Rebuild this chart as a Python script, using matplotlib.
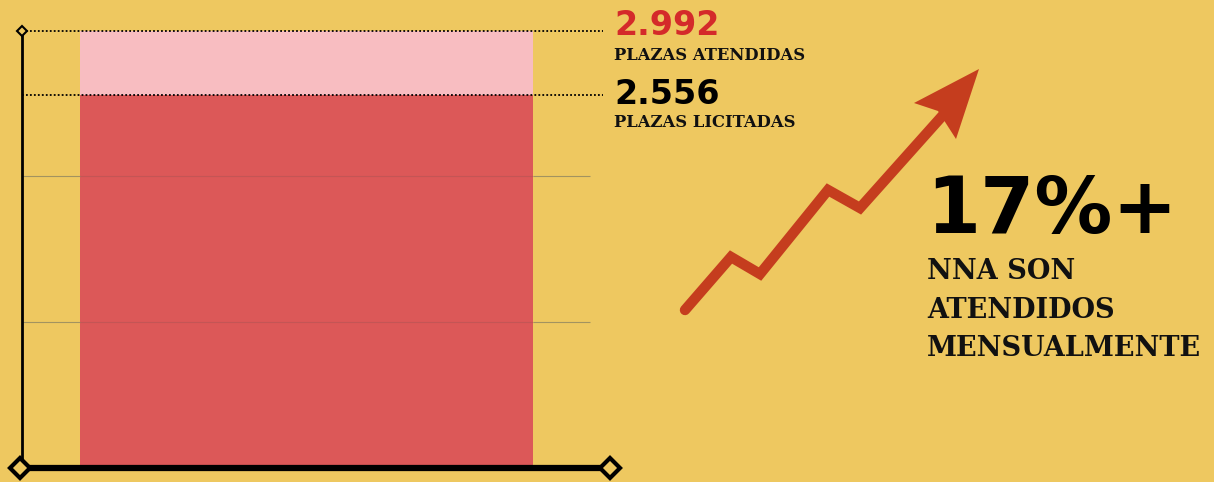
import matplotlib
matplotlib.use("Agg")
import matplotlib.pyplot as plt
from matplotlib.patches import Polygon

# ---- data ----
categories = ["Plazas"]
atendidas = [2992]
licitadas = [2556]
gridlines = [1000, 2000]
label_atendidas = "2.992"
label_licitadas = "2.556"
sub_atendidas = "PLAZAS ATENDIDAS"
sub_licitadas = "PLAZAS LICITADAS"
big_number = "17%+"
big_caption = ["NNA SON", "ATENDIDOS", "MENSUALMENTE"]

BG = "#EEC860"
RED = "#DC5858"
PINK = "#F8BDC1"
TXT_RED = "#D42A2A"
ARROW = "#C53D1E"

W, H = 1214, 482
fig = plt.figure(figsize=(W / 100, H / 100), dpi=100, facecolor=BG)

# main axes: x-pixels 22..610, y pixel 468 = 0, 146 px per 1000
ax_l, ax_r, ax_b = 22, 610, 468
ppu = 146 / 1000
ymax = 3100
top_px = ax_b - ymax * ppu
ax = fig.add_axes([ax_l / W, (H - ax_b) / H, (ax_r - ax_l) / W, (ax_b - top_px) / H])
ax.set_facecolor("none")
bar_l, bar_r = 80, 533
bw = bar_r - bar_l
ax.set_xlim((ax_l - bar_l) / bw, (ax_r - bar_l) / bw)
ax.set_ylim(0, ymax)
for s in ax.spines.values():
    s.set_visible(False)
ax.set_xticks([])
ax.set_yticks([])

def px(x):
    return (x - bar_l) / bw

ax.bar([0], atendidas, width=1, align="edge", color=PINK, zorder=2)
ax.bar([0], licitadas, width=1, align="edge", color=RED, zorder=3)

xl = px(ax_l)
for g in gridlines:
    ax.plot([xl, 0], [g, g], color="#8f8660", lw=0.8, alpha=0.8, zorder=4,
            solid_capstyle="butt")
    ax.plot([1, px(590)], [g, g], color="#8f8660", lw=0.8, alpha=0.8, zorder=4,
            solid_capstyle="butt")
    ax.plot([0, 1], [g, g], color="#8f5050", lw=0.8, alpha=0.3, zorder=4,
            solid_capstyle="butt")

# dotted reference lines
for v in (atendidas[0], licitadas[0]):
    ax.plot([xl, px(603)], [v, v], color="black", lw=1.3, ls=(0, (1, 1.2)), zorder=5)

# axis lines
ax.plot([xl, xl], [0, atendidas[0]], color="black", lw=2, zorder=6, clip_on=False)
ax.plot([px(18), px(ax_r)], [0, 0], color="black", lw=4.5,
        zorder=6, clip_on=False, solid_capstyle="butt")
ax.plot([px(20), px(ax_r)], [0, 0], ls="none", marker="D",
        ms=10, mfc=BG, mec="black", mew=3, zorder=7, clip_on=False)
ax.plot([xl], [atendidas[0]], ls="none", marker="D", ms=5, mfc=BG, mec="black",
        mew=1.5, zorder=7, clip_on=False)

# labels next to lines
tx = px(614)
ax.text(tx, atendidas[0] - 4 / ppu, label_atendidas, color=TXT_RED,
        fontsize=24, fontweight="bold", family="DejaVu Sans", ha="left",
        va="baseline", clip_on=False)
ax.text(tx, atendidas[0] - 29 / ppu, sub_atendidas, color="#111111",
        fontsize=11.8, fontweight="bold", family="DejaVu Serif", ha="left",
        va="baseline", clip_on=False)
ax.text(tx, licitadas[0] - 9 / ppu, label_licitadas, color="black",
        fontsize=24, fontweight="bold", family="DejaVu Sans", ha="left",
        va="baseline", clip_on=False)
ax.text(tx, licitadas[0] - 32 / ppu, sub_licitadas, color="#111111",
        fontsize=11.8, fontweight="bold", family="DejaVu Serif", ha="left",
        va="baseline", clip_on=False)

# decoration overlay (pixel coordinates)
ov = fig.add_axes([0, 0, 1, 1])
ov.set_xlim(0, W)
ov.set_ylim(H, 0)
ov.axis("off")
ov.set_facecolor("none")
pts_x = [685, 731, 760, 828, 860, 944]
pts_y = [310, 257, 274, 190, 208, 114]
ov.plot(pts_x, pts_y, color=ARROW, lw=7.5, solid_joinstyle="miter",
        solid_capstyle="round")
ov.add_patch(Polygon([[979, 69], [914, 103], [938, 111], [956, 139]],
                     closed=True, color=ARROW, lw=0))

ov.text(926, 233, big_number, fontsize=56, fontweight="heavy", family="DejaVu Sans",
        color="black", ha="left", va="baseline")
for i, line in enumerate(big_caption):
    ov.text(927, 279 + i * 38.5, line, fontsize=19.5, fontweight="bold",
            family="DejaVu Serif", color="#111111", ha="left", va="baseline")

fig.savefig("out.png", dpi=100, facecolor=BG)
